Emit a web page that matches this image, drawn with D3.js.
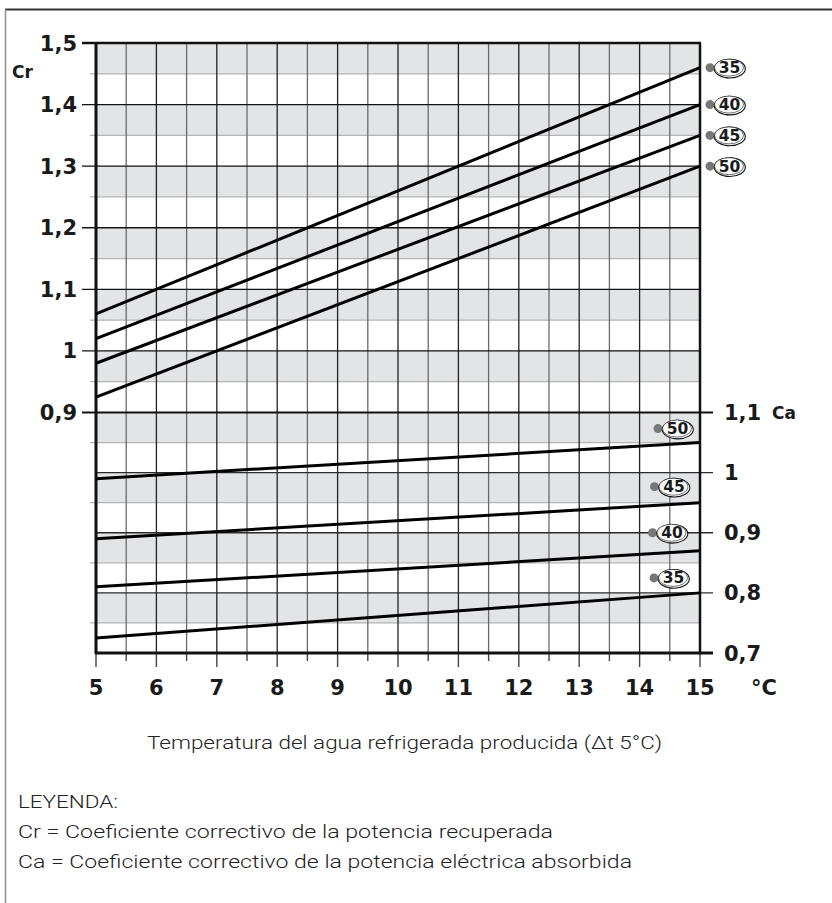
<!DOCTYPE html>
<html><head><meta charset="utf-8">
<script src="https://cdn.jsdelivr.net/npm/d3@7"></script>
<style>
html,body{margin:0;padding:0;background:#fff;}
svg{display:block;}
</style></head>
<body>
<script>
// ---- data ----
const temps = [5, 6, 7, 8, 9, 10, 11, 12, 13, 14, 15];
const tempEnds = [5, 15];
const seriesNames = ["35", "40", "45", "50"];
const crStart = [1.06, 1.02, 0.98, 0.925];
const crEnd   = [1.46, 1.40, 1.35, 1.30];
const caStart = [0.725, 0.81, 0.89, 0.99];
const caEnd   = [0.80, 0.87, 0.95, 1.05];
const crTicks = [0.9, 1.0, 1.1, 1.2, 1.3, 1.4, 1.5];
const caTicks = [0.7, 0.8, 0.9, 1.0, 1.1];
const titleText = "Temperatura del agua refrigerada producida (Δt 5°C)";
const legendLines = ["LEYENDA:", "Cr = Coeficiente correctivo de la potencia recuperada", "Ca = Coeficiente correctivo de la potencia eléctrica absorbida"];

// ---- layout ----
const W = 832, H = 903;
const svg = d3.select("body").append("svg").attr("width", W).attr("height", H);
const x = d3.scaleLinear().domain([5, 15]).range([96, 700]);
const yCr = d3.scaleLinear().domain([0.9, 1.5]).range([412.5, 43]);
const yCa = d3.scaleLinear().domain([0.7, 1.1]).range([653, 412.5]);
const fmt = v => d3.format("~g")(v).replace(".", ",");
const BAND = "#e3e4e6";
const boldFont = "'DejaVu Sans', sans-serif";

// frame
svg.append("line").attr("x1", 5).attr("x2", W).attr("y1", 9.5).attr("y2", 9.5).attr("stroke", "#333").attr("stroke-width", 2);
svg.append("line").attr("x1", 5.5).attr("x2", 5.5).attr("y1", 9).attr("y2", H).attr("stroke", "#8a8a8a").attr("stroke-width", 1.5);

const g = svg.append("g");

// bands: upper half of each 0.1 interval
const crBands = d3.range(0, 6).map(i => +(0.95 + i * 0.1).toFixed(2));
g.selectAll("rect.crb").data(crBands).join("rect")
  .attr("x", x(5)).attr("width", x(15) - x(5))
  .attr("y", d => yCr(d + 0.05)).attr("height", d => yCr(d) - yCr(d + 0.05))
  .attr("fill", BAND);
const caBands = d3.range(0, 4).map(i => +(0.75 + i * 0.1).toFixed(2));
g.selectAll("rect.cab").data(caBands).join("rect")
  .attr("x", x(5)).attr("width", x(15) - x(5))
  .attr("y", d => yCa(d + 0.05)).attr("height", d => yCa(d) - yCa(d + 0.05))
  .attr("fill", BAND);

// minor horizontal (0.05) lines
const crMinor = d3.range(0, 6).map(i => +(0.95 + i * 0.1).toFixed(2));
g.selectAll("line.crm").data(crMinor).join("line")
  .attr("x1", 90).attr("x2", x(15)).attr("y1", d => yCr(d)).attr("y2", d => yCr(d))
  .attr("stroke", "#b4b4b4").attr("stroke-width", 1.2);
const caMinor = d3.range(0, 4).map(i => +(0.75 + i * 0.1).toFixed(2));
g.selectAll("line.cam").data(caMinor).join("line")
  .attr("x1", 90).attr("x2", x(15)).attr("y1", d => yCa(d)).attr("y2", d => yCa(d))
  .attr("stroke", "#b4b4b4").attr("stroke-width", 1.2);

// vertical grid
const halfSteps = d3.range(5.5, 15, 0.5);
g.selectAll("line.vg").data(halfSteps).join("line")
  .attr("x1", d => x(d)).attr("x2", d => x(d)).attr("y1", yCr(1.5)).attr("y2", yCa(0.7))
  .attr("stroke", d => Number.isInteger(d) ? "#222" : "#6a6a6a")
  .attr("stroke-width", 1.3);

// major horizontal lines
g.selectAll("line.crM").data(crTicks.filter(d => d > 0.9 && d < 1.5)).join("line")
  .attr("x1", 82).attr("x2", x(15)).attr("y1", d => yCr(d)).attr("y2", d => yCr(d))
  .attr("stroke", "#111").attr("stroke-width", 1.3);
g.selectAll("line.caM").data(caTicks.filter(d => d > 0.7 && d < 1.1)).join("line")
  .attr("x1", x(5)).attr("x2", 713).attr("y1", d => yCa(d)).attr("y2", d => yCa(d))
  .attr("stroke", "#2a2a2a").attr("stroke-width", 1.3);

// bottom axis ticks
g.selectAll("line.xt").data(d3.range(5, 15.01, 0.5)).join("line")
  .attr("x1", d => x(d)).attr("x2", d => x(d)).attr("y1", yCa(0.7))
  .attr("y2", d => Number.isInteger(d) ? 667 : 661)
  .attr("stroke", "#444").attr("stroke-width", 1.4);

// frame lines of plot
g.append("line").attr("x1", 82).attr("x2", x(15) + 1).attr("y1", yCr(1.5)).attr("y2", yCr(1.5)).attr("stroke", "#111").attr("stroke-width", 2.5);
g.append("line").attr("x1", 82).attr("x2", 713).attr("y1", yCr(0.9)).attr("y2", yCr(0.9)).attr("stroke", "#111").attr("stroke-width", 2);
g.append("line").attr("x1", x(5) - 1).attr("x2", 713).attr("y1", yCa(0.7)).attr("y2", yCa(0.7)).attr("stroke", "#111").attr("stroke-width", 3);
g.append("line").attr("x1", x(5)).attr("x2", x(5)).attr("y1", yCr(1.5)).attr("y2", yCa(0.7) + 1).attr("stroke", "#111").attr("stroke-width", 3);
g.append("line").attr("x1", x(15)).attr("x2", x(15)).attr("y1", yCr(1.5)).attr("y2", yCa(0.7) + 1).attr("stroke", "#111").attr("stroke-width", 2.5);

// data lines
const line = d3.line().x(d => x(d[0])).y(d => d[1]);
seriesNames.forEach((s, i) => {
  g.append("path").attr("d", line([[tempEnds[0], yCr(crStart[i])], [tempEnds[1], yCr(crEnd[i])]]))
    .attr("stroke", "#000").attr("stroke-width", 3).attr("fill", "none");
  g.append("path").attr("d", line([[tempEnds[0], yCa(caStart[i])], [tempEnds[1], yCa(caEnd[i])]]))
    .attr("stroke", "#000").attr("stroke-width", 3).attr("fill", "none");
});

// series badges
function badge(cx, cy, txt) {
  const b = svg.append("g");
  b.append("circle").attr("cx", cx - 19).attr("cy", cy).attr("r", 4.5).attr("fill", "#777");
  b.append("ellipse").attr("cx", cx + 0.8).attr("cy", cy + 1).attr("rx", 15.5).attr("ry", 9.3)
    .attr("fill", "#fff").attr("stroke", "#111").attr("stroke-width", 1.1);
  b.append("ellipse").attr("cx", cx).attr("cy", cy).attr("rx", 14.5).attr("ry", 8.5)
    .attr("fill", "#fff").attr("stroke", "#111").attr("stroke-width", 0.6);
  b.append("text").attr("x", cx + 0.5).attr("y", cy + 5.5).attr("text-anchor", "middle")
    .attr("font-family", boldFont).attr("font-weight", "bold").attr("font-size", 15.5)
    .attr("fill", "#1a1a1a").text(txt);
}
seriesNames.forEach((s, i) => badge(729, yCr(crEnd[i]), s));
const caLabelDy = [-15, -18, -16, -14];
const caLabelX = [673, 671.5, 673.5, 677];
seriesNames.forEach((s, i) => badge(caLabelX[i], yCa(caEnd[i]) + caLabelDy[i], s));

// left tick labels
svg.selectAll("text.crl").data(crTicks).join("text")
  .attr("x", 77).attr("y", d => yCr(d)).attr("dy", "0.36em").attr("text-anchor", "end")
  .attr("font-family", boldFont).attr("font-weight", "bold").attr("font-size", 21).attr("fill", "#1a1a1a")
  .text(fmt);
svg.append("text").attr("x", 12).attr("y", 78).attr("font-family", boldFont).attr("font-weight", "bold")
  .attr("font-size", 17).attr("fill", "#1a1a1a").text("Cr");

// right tick labels
svg.selectAll("text.cal").data(caTicks).join("text")
  .attr("x", 724).attr("y", d => yCa(d)).attr("dy", "0.36em")
  .attr("font-family", boldFont).attr("font-weight", "bold").attr("font-size", 21).attr("fill", "#1a1a1a")
  .text(fmt);
svg.append("text").attr("x", 772).attr("y", yCa(1.1) + 6).attr("font-family", boldFont).attr("font-weight", "bold")
  .attr("font-size", 17).attr("fill", "#1a1a1a").text("Ca");

// bottom labels
svg.selectAll("text.xl").data(temps).join("text")
  .attr("x", d => x(d)).attr("y", 695).attr("text-anchor", "middle")
  .attr("font-family", boldFont).attr("font-weight", "bold").attr("font-size", 21).attr("fill", "#1a1a1a")
  .text(d => d);
svg.append("text").attr("x", 751).attr("y", 695).attr("font-family", boldFont).attr("font-weight", "bold")
  .attr("font-size", 21).attr("fill", "#1a1a1a").text("°C");

// title
const lightFont = "Roboto, 'Liberation Sans Narrow', sans-serif";
svg.append("text").attr("x", 147).attr("y", 749).attr("font-family", lightFont).attr("font-weight", 300)
  .attr("font-size", 18.5).attr("fill", "#222").attr("textLength", 515).attr("lengthAdjust", "spacingAndGlyphs")
  .text(titleText);

// legend
const legendLens = [100, 535, 614];
legendLines.forEach((t, i) => {
  svg.append("text").attr("x", 18).attr("y", 808 + i * 30).attr("font-family", lightFont).attr("font-weight", 300)
    .attr("font-size", 18.5).attr("fill", "#222").attr("textLength", legendLens[i]).attr("lengthAdjust", "spacingAndGlyphs")
    .text(t);
});
</script>
</body></html>
